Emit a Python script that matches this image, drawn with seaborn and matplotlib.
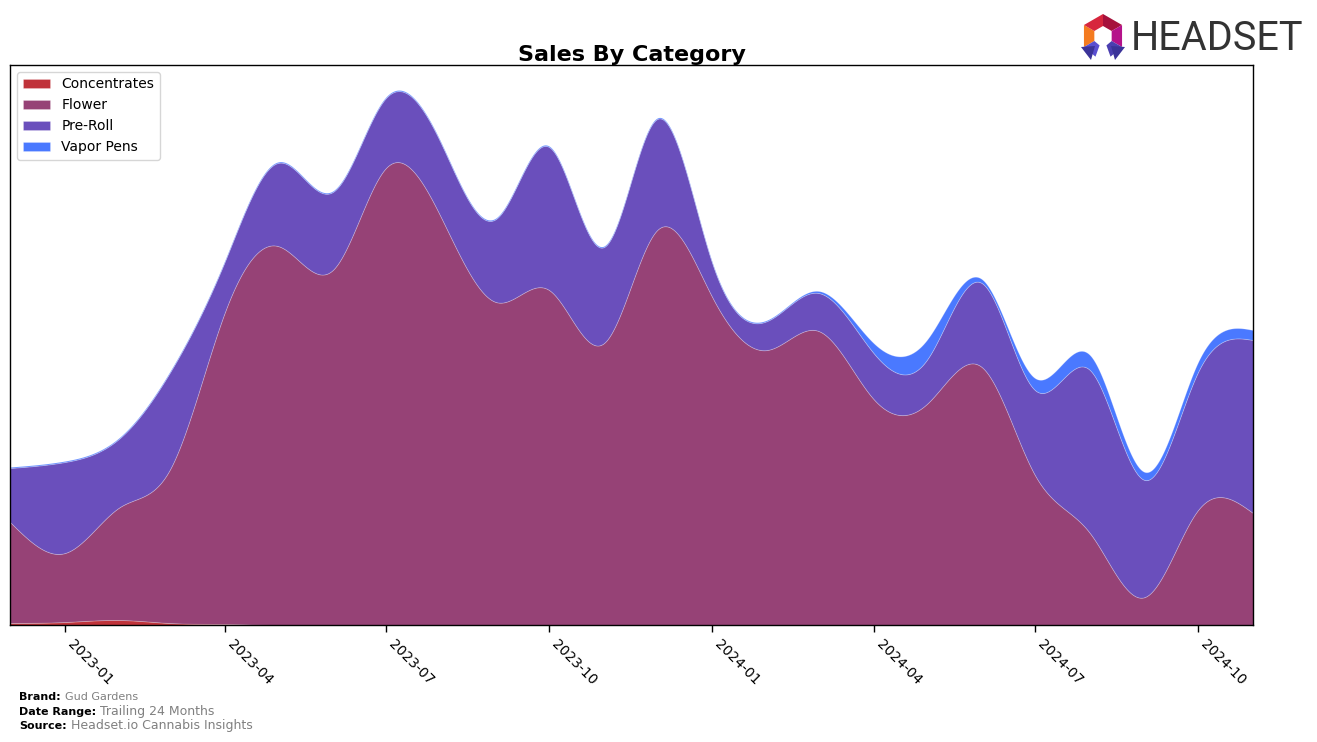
import numpy as np
import pandas as pd
import matplotlib
matplotlib.use("Agg")
import matplotlib.pyplot as plt
import matplotlib.dates as mdates
from matplotlib.patches import Polygon
import seaborn as sns

# ---------------- data ----------------
months = pd.date_range("2022-12-01", "2024-11-01", freq="MS")
categories = ["Concentrates", "Flower", "Pre-Roll", "Vapor Pens"]
concentrates = [2, 3, 5, 2, 1, 0, 0, 0, 0, 0, 0, 0, 0, 0, 0, 0, 0, 0, 0, 0, 0, 0, 0, 0]
flower = [101, 69, 113, 153, 311, 379, 355, 457, 408, 323, 335, 282,
          395, 328, 275, 294, 226, 221, 258, 150, 92, 28, 115, 112]
pre_roll = [54, 91, 69, 97, 51, 83, 78, 70, 74, 83, 143, 96,
            111, 34, 29, 38, 46, 44, 84, 85, 163, 117, 138, 173]
vapor_pens = [1, 1, 1, 1, 1, 1, 1, 1, 1, 1, 1, 1,
              1, 1, 1, 2, 10, 20, 4, 12, 15, 8, 10, 10]
colors = ["#C0333A", "#964276", "#6A4FBC", "#4A79FF"]
tick_dates = pd.date_range("2023-01-01", "2024-10-01", freq="3MS")

brand = "Gud Gardens"
date_range = "Trailing 24 Months"
source = "Headset.io Cannabis Insights"


def natural_spline(x, y, xs):
    x = np.asarray(x, float)
    y = np.asarray(y, float)
    n = len(x)
    h = np.diff(x)
    A = np.zeros((n, n))
    r = np.zeros(n)
    A[0, 0] = 1
    A[-1, -1] = 1
    for i in range(1, n - 1):
        A[i, i - 1] = h[i - 1]
        A[i, i] = 2 * (h[i - 1] + h[i])
        A[i, i + 1] = h[i]
        r[i] = 3 * ((y[i + 1] - y[i]) / h[i] - (y[i] - y[i - 1]) / h[i - 1])
    c = np.linalg.solve(A, r)
    b = (y[1:] - y[:-1]) / h - h * (2 * c[:-1] + c[1:]) / 3
    d = (c[1:] - c[:-1]) / (3 * h)
    idx = np.clip(np.searchsorted(x, xs) - 1, 0, n - 2)
    dx = xs - x[idx]
    return y[idx] + b[idx] * dx + c[idx] * dx ** 2 + d[idx] * dx ** 3


# ---------------- figure ----------------
sns.set_theme(style="white")
plt.rcParams["font.family"] = ["DejaVu Sans"]
plt.rcParams["text.color"] = "black"
plt.rcParams["xtick.color"] = "black"
plt.rcParams["axes.labelcolor"] = "black"

fig = plt.figure(figsize=(13.17, 7.42), dpi=100)
ax = fig.add_axes([10 / 1317, 117 / 742, 1243 / 1317, 560 / 742])

xnum = mdates.date2num(months)
xs = np.linspace(xnum[0], xnum[-1], 1500)
series = [concentrates, flower, pre_roll, vapor_pens]
smooth = [np.clip(natural_spline(xnum, s, xs), 0, None) for s in series]

ax.stackplot(xs, *smooth, labels=categories, colors=colors,
             linewidth=0.6, edgecolor=(1, 1, 1, 0.25))

ax.set_xlim(xnum[0], xnum[-1])
ax.set_ylim(0, 560)
ax.set_yticks([])
ax.set_xticks(mdates.date2num(tick_dates))
ax.set_xticklabels([d.strftime("%Y-%m") for d in tick_dates])
ax.tick_params(axis="x", bottom=True, length=5, width=1, color="black",
               labelcolor="black", labelsize=10, pad=4)
for lbl in ax.get_xticklabels():
    lbl.set_rotation(-45)
    lbl.set_ha("left")
    lbl.set_va("top")
for sp in ax.spines.values():
    sp.set_color("black")
    sp.set_linewidth(1)

ax.set_title("Sales By Category", fontsize=16, fontweight="bold", pad=3,
             color="black")
leg = ax.legend(loc="upper left", fontsize=10, frameon=True, fancybox=True,
                borderaxespad=0.5)
leg.get_frame().set_edgecolor("#cccccc")
for t in leg.get_texts():
    t.set_color("black")

# ---------------- footer ----------------
rows = [("Brand:", brand, 8, 697), ("Date Range:", date_range, 9, 712),
        ("Source:", source, 9, 726)]
for lab, val, vs, yp in rows:
    t = fig.text(19 / 1317, 1 - yp / 742, lab, fontsize=8, fontweight="bold",
                 color="black", ha="left", va="center")
    fig.canvas.draw()
    ax.annotate(val, xy=(1, 0.5), xycoords=t, xytext=(3, 0),
                textcoords="offset points", fontsize=vs, color="#808080",
                ha="left", va="center", annotation_clip=False)

# ---------------- logo ----------------
fig.text(1303 / 1317, 1 - 39 / 742, "HEADSET", fontsize=28.5, color="#333333",
         family=["Roboto", "DejaVu Sans"], ha="right", va="center")


def P(pts):
    return [(px / 1317, 1 - py / 742) for px, py in pts]


cx, cy = 1103, 36
Ro, Ri = 22, 10
segs = [(150, 210, "#F47B20"), (90, 150, "#D7263D"), (30, 90, "#A6113C"),
        (-30, 30, "#B5128A"), (-70, -30, "#4B3FB0"), (210, 250, "#5A4FD0")]
for a0, a1, col in segs:
    pts = []
    for a in (a0, a1):
        t_ = np.deg2rad(a)
        pts.append((cx + Ro * np.cos(t_), cy - Ro * np.sin(t_)))
    for a in (a1, a0):
        t_ = np.deg2rad(a)
        pts.append((cx + Ri * np.cos(t_), cy - Ri * np.sin(t_)))
    fig.patches.append(Polygon(P(pts), closed=True, transform=fig.transFigure,
                               facecolor=col, edgecolor="none"))
fig.patches.append(Polygon(P([(1081, 47), (1095, 46), (1091, 60)]), closed=True,
                           transform=fig.transFigure, facecolor="#3B3399",
                           edgecolor="none"))
fig.patches.append(Polygon(P([(1111, 46), (1125, 47), (1115, 60)]), closed=True,
                           transform=fig.transFigure, facecolor="#3B3399",
                           edgecolor="none"))

fig.savefig("out.png", dpi=100)
